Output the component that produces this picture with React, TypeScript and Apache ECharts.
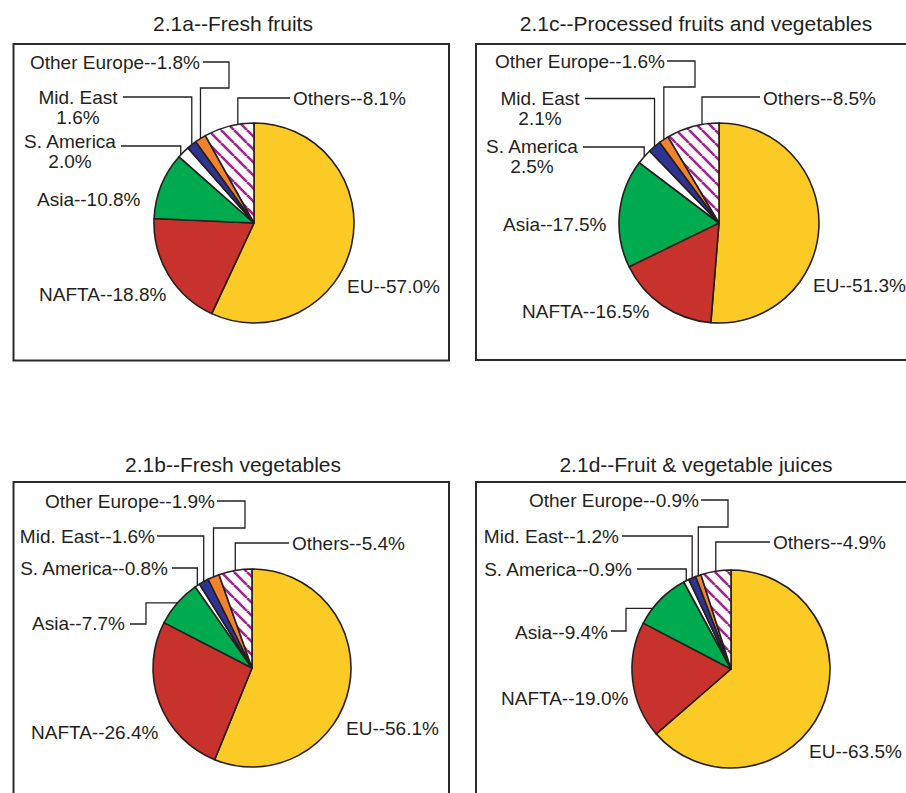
import React, { useEffect, useRef } from "react";
import * as echarts from "echarts";

// ---------- data ----------
const regions = ["EU", "NAFTA", "Asia", "S. America", "Mid. East", "Other Europe", "Others"];
const freshFruits = [57.0, 18.8, 10.8, 2.0, 1.6, 1.8, 8.1];
const processedFruitsVeg = [51.3, 16.5, 17.5, 2.5, 2.1, 1.6, 8.5];
const freshVegetables = [56.1, 26.4, 7.7, 0.8, 1.6, 1.9, 5.4];
const juices = [63.5, 19.0, 9.4, 0.9, 1.2, 0.9, 4.9];
const titles = [
  "2.1a--Fresh fruits",
  "2.1c--Processed fruits and vegetables",
  "2.1b--Fresh vegetables",
  "2.1d--Fruit & vegetable juices",
];

// ---------- styles ----------
const INK = "#231f20";
const FONT = '"Liberation Sans", Arial, Helvetica, sans-serif';
const sliceColors = ["#fcca25", "#c8322d", "#00ab4f", "#ffffff", "#2f3391", "#f1832c"];
const HATCH = "#a3238e";

type P = number | "sx" | "sy";
type Lbl = {
  x: number;
  y: number;
  align: "left" | "right" | "center";
  twoLine?: boolean;
  line?: P[][];
  frac?: number;
};
type Panel = {
  values: number[];
  title: string;
  titleX: number;
  titleY: number;
  box: number[];
  center: number[];
  r: number;
  labels: Lbl[];
};

const panels: Panel[] = [
  {
    values: freshFruits,
    title: titles[0],
    titleX: 233,
    titleY: 23,
    box: [13.5, 44, 435.5, 316.5],
    center: [254, 223],
    r: 100,
    labels: [
      { x: 347, y: 286, align: "left" },
      { x: 39, y: 294.5, align: "left" },
      { x: 37, y: 199, align: "left" },
      { x: 70, y: 151.5, align: "center", twoLine: true, line: [[121, 146], ["sx", 146], ["sx", "sy"]], frac: 0.2 },
      { x: 78, y: 107.5, align: "center", twoLine: true, line: [[123, 97], ["sx", 97], ["sx", "sy"]] },
      { x: 200, y: 62, align: "right", line: [[203, 62], [229, 62], [229, 88], ["sx", 88], ["sx", "sy"]] },
      { x: 293, y: 98.5, align: "left", line: [[290, 98], ["sx", 98], ["sx", "sy"]], frac: 0.68 },
    ],
  },
  {
    values: processedFruitsVeg,
    title: titles[1],
    titleX: 696,
    titleY: 23,
    box: [476, 44, 440, 316],
    center: [719, 223],
    r: 100,
    labels: [
      { x: 813, y: 285, align: "left" },
      { x: 522, y: 311, align: "left" },
      { x: 503, y: 224, align: "left" },
      { x: 532, y: 156.5, align: "center", twoLine: true, line: [[583, 147], ["sx", 147], ["sx", "sy"]] },
      { x: 540, y: 108.5, align: "center", twoLine: true, line: [[585, 98.5], ["sx", 98.5], ["sx", "sy"]] },
      { x: 665, y: 61, align: "right", line: [[667, 61], [695, 61], [695, 87], ["sx", 87], ["sx", "sy"]] },
      { x: 763, y: 98, align: "left", line: [[760, 97], ["sx", 97], ["sx", "sy"]], frac: 0.68 },
    ],
  },
  {
    values: freshVegetables,
    title: titles[2],
    titleX: 233,
    titleY: 464,
    box: [13.5, 482, 435.5, 330],
    center: [252, 668],
    r: 99,
    labels: [
      { x: 346, y: 728, align: "left" },
      { x: 31, y: 732, align: "left" },
      { x: 125, y: 623.5, align: "right", line: [[130, 624], [146, 624], [146, "sy"], ["sx", "sy"]] },
      { x: 168, y: 568, align: "right", line: [[172, 568], ["sx", 568], ["sx", "sy"]] },
      { x: 155, y: 536, align: "right", line: [[157, 536], ["sx", 536], ["sx", "sy"]] },
      { x: 215, y: 501, align: "right", line: [[217, 501], [245, 501], [245, 528], ["sx", 528], ["sx", "sy"]] },
      { x: 292, y: 543, align: "left", line: [[289, 543], ["sx", 543], ["sx", "sy"]] },
    ],
  },
  {
    values: juices,
    title: titles[3],
    titleX: 696,
    titleY: 464,
    box: [476, 482, 440, 330],
    center: [731, 669],
    r: 99,
    labels: [
      { x: 809, y: 751, align: "left" },
      { x: 501, y: 698, align: "left" },
      { x: 608, y: 632, align: "right", line: [[611, 631], [626, 631], [626, "sy"], ["sx", "sy"]], frac: 0.3 },
      { x: 632, y: 569, align: "right", line: [[637, 569], ["sx", 569], ["sx", "sy"]] },
      { x: 619, y: 536, align: "right", line: [[622, 536], ["sx", 536], ["sx", "sy"]] },
      { x: 699, y: 500, align: "right", line: [[701, 500], [728, 500], [728, 527], ["sx", 527], ["sx", "sy"]] },
      { x: 773, y: 542, align: "left", line: [[770, 542], ["sx", 542], ["sx", "sy"]] },
    ],
  },
];

function makeHatch(): HTMLCanvasElement {
  const s = 13;
  const c = document.createElement("canvas");
  c.width = s;
  c.height = s;
  const ctx = c.getContext("2d")!;
  ctx.fillStyle = "#ffffff";
  ctx.fillRect(0, 0, s, s);
  ctx.strokeStyle = HATCH;
  ctx.lineWidth = 2.6;
  for (const k of [-s, 0, s]) {
    ctx.beginPath();
    ctx.moveTo(k, 0);
    ctx.lineTo(k + s, s);
    ctx.stroke();
  }
  return c;
}

function sliceEdge(values: number[], i: number, frac: number, cx: number, cy: number, r: number) {
  const total = values.reduce((a, b) => a + b, 0);
  let cum = 0;
  for (let k = 0; k < i; k++) cum += values[k];
  const a = ((cum + frac * values[i]) / total) * Math.PI * 2;
  return [cx + r * Math.sin(a), cy - r * Math.cos(a)];
}

export default function App() {
  const ref = useRef<HTMLDivElement>(null);
  useEffect(() => {
    document.body.style.margin = "0";
    if (!ref.current) return;
    const chart = echarts.init(ref.current, null, { renderer: "svg" });
    const hatch = makeHatch();

    const series: any[] = [];
    const graphics: any[] = [];

    panels.forEach((p) => {
      series.push({
        type: "pie",
        center: p.center,
        radius: [0, p.r],
        startAngle: 90,
        clockwise: true,
        silent: true,
        avoidLabelOverlap: false,
        label: { show: false },
        labelLine: { show: false },
        emphasis: { disabled: true },
        itemStyle: { borderColor: INK, borderWidth: 1.6 },
        data: regions.map((name, i) => ({
          name,
          value: p.values[i],
          itemStyle: {
            color: i < sliceColors.length ? sliceColors[i] : { image: hatch, repeat: "repeat" },
          },
        })),
      });

      graphics.push({
        type: "rect",
        shape: { x: p.box[0], y: p.box[1], width: p.box[2], height: p.box[3] },
        style: { fill: "none", stroke: "#2b2b2b", lineWidth: 2 },
        z: 10,
      });
      graphics.push({
        type: "text",
        x: p.titleX,
        y: p.titleY,
        style: {
          text: p.title,
          fill: INK,
          font: `21px ${FONT}`,
          align: "center",
          verticalAlign: "middle",
          textAlign: "center",
          textVerticalAlign: "middle",
        },
        z: 10,
      });

      p.labels.forEach((l, i) => {
        const v = p.values[i].toFixed(1) + "%";
        const text = l.twoLine ? `${regions[i]}\n${v}` : `${regions[i]}--${v}`;
        graphics.push({
          type: "text",
          x: l.x,
          y: l.y,
          style: {
            text,
            fill: INK,
            font: `19px ${FONT}`,
            lineHeight: 20,
            align: l.align,
            verticalAlign: "middle",
            textAlign: l.align,
            textVerticalAlign: "middle",
          },
          z: 10,
        });
        if (l.line) {
          const [sx, sy] = sliceEdge(p.values, i, l.frac ?? 0.5, p.center[0], p.center[1], p.r);
          const pts = l.line.map((pt) =>
            pt.map((c) => (c === "sx" ? sx : c === "sy" ? sy : (c as number)))
          );
          graphics.push({
            type: "polyline",
            shape: { points: pts },
            style: { stroke: INK, lineWidth: 1.3, fill: "none" },
            z: 10,
          });
        }
      });
    });

    chart.setOption({
      animation: false,
      backgroundColor: "#ffffff",
      series,
      graphic: { elements: graphics },
    });
    return () => chart.dispose();
  }, []);
  return <div ref={ref} style={{ width: 906, height: 793 }} />;
}
